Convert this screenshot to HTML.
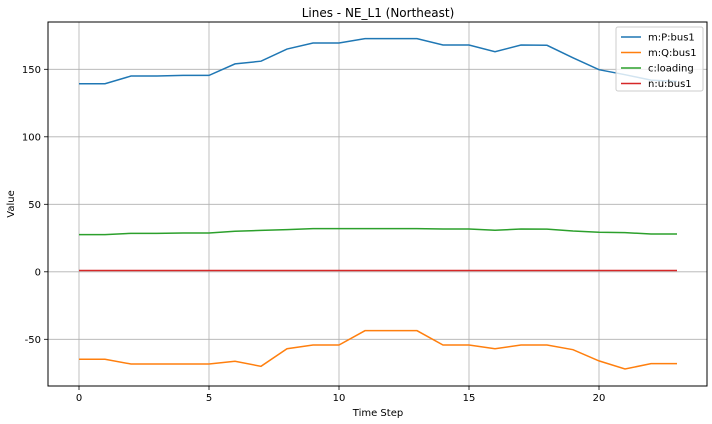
<!DOCTYPE html>
<html><head><meta charset="utf-8"><style>
body{margin:0;background:#fff;}
svg{display:block;font-family:"DejaVu Sans","Liberation Sans",sans-serif;}
</style></head><body>
<svg id="chart" width="712" height="424" xmlns="http://www.w3.org/2000/svg">
<rect width="712" height="424" fill="#fff"/>
<g id="grid"></g>
<g id="series"></g>
<rect x="48" y="22" width="659" height="364" fill="none" stroke="#000" stroke-width="1"/>
<g id="ticks" font-size="10" fill="#000"></g>
<text x="378" y="17" text-anchor="middle" font-size="12">Lines - NE_L1 (Northeast)</text>
<text x="378" y="416" text-anchor="middle" font-size="10">Time Step</text>
<text transform="translate(14,204) rotate(-90)" text-anchor="middle" font-size="10">Value</text>
<g id="legend"></g>
</svg>
<script>
const timeSteps=[0,1,2,3,4,5,6,7,8,9,10,11,12,13,14,15,16,17,18,19,20,21,22,23];
const seriesNames=["m:P:bus1","m:Q:bus1","c:loading","n:u:bus1"];
const seriesColors=["#1f77b4","#ff7f0e","#2ca02c","#d62728"];
const pValues=[139.3,139.3,145,145,145.5,145.5,154,156,165,169.5,169.5,172.7,172.7,172.7,168,168,163,168,167.8,158.5,149.7,146,142,141];
const qValues=[-64.8,-64.8,-68.3,-68.3,-68.3,-68.3,-66.3,-70,-57,-54.2,-54.2,-43.6,-43.6,-43.6,-54.2,-54.2,-57,-54.2,-54.2,-57.7,-66,-72,-68,-68];
const loadingValues=[27.5,27.5,28.5,28.5,28.7,28.7,30,30.7,31.2,32,32,32,32,32,31.7,31.7,30.8,31.7,31.6,30.2,29.3,29,28,28];
const uValues=[1,1,1,1,1,1,1,1,1,1,1,1,1,1,1,1,1,1,1,1,1,1,1,1];
const xTicks=[0,5,10,15,20];
const yTicks=[-50,0,50,100,150];
const NS="http://www.w3.org/2000/svg";
const X=v=>79+v*26;
const Y=v=>271.8-v*1.35;
function mk(tag,attrs,parent){const e=document.createElementNS(NS,tag);for(const k in attrs)e.setAttribute(k,attrs[k]);parent.appendChild(e);return e;}
const grid=document.getElementById('grid'),ticks=document.getElementById('ticks'),ser=document.getElementById('series'),leg=document.getElementById('legend');
xTicks.forEach(t=>{
 const g=mk('line',{x1:X(t),x2:X(t),y1:22,y2:386,stroke:'#b0b0b0','stroke-width':0.8},grid);
 
 
 mk('line',{x1:X(t),x2:X(t),y1:386,y2:390,stroke:'#000','stroke-width':0.8},ticks);
 const tx=mk('text',{x:X(t),y:401,'text-anchor':'middle'},ticks);tx.textContent=t;
 
 
});
yTicks.forEach(t=>{
 const g=mk('line',{x1:48,x2:707,y1:Y(t),y2:Y(t),stroke:'#b0b0b0','stroke-width':0.8},grid);
 
 
 mk('line',{x1:44,x2:48,y1:Y(t),y2:Y(t),stroke:'#000','stroke-width':0.8},ticks);
 const tx=mk('text',{x:41,y:Y(t)+3.5,'text-anchor':'end'},ticks);tx.textContent=t;
 
 
});
const allSeries=[pValues,qValues,loadingValues,uValues];
allSeries.forEach((vals,i)=>{
 const p=mk('polyline',{points:vals.map((v,j)=>X(timeSteps[j])+','+Y(v)).join(' '),fill:'none',stroke:seriesColors[i],'stroke-width':1.5},ser);
 
 
});
const box=mk('rect',{x:616,y:27,width:87,height:64,fill:'#fff','fill-opacity':0.8,stroke:'#ccc',rx:2},leg);


seriesNames.forEach((n,i)=>{
 const y=37+i*15.5;
 mk('line',{x1:621,x2:641,y1:y,y2:y,stroke:seriesColors[i],'stroke-width':1.5},leg);
 const t=mk('text',{x:648,y:y+3.5,'font-size':10},leg);t.textContent=n;
 
 
});
</script>
</body></html>
